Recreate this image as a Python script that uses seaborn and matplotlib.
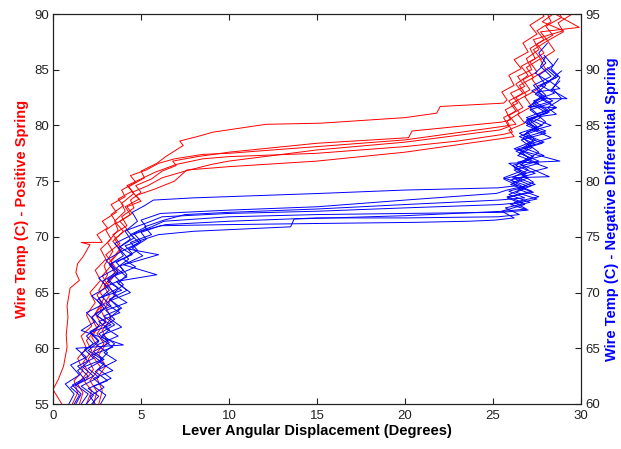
import pandas as pd
import matplotlib
matplotlib.use("Agg")
import matplotlib.pyplot as plt
import seaborn as sns

# red runs - positive spring, left axis (deg, C)
r1_x = [1.9, 2.2, 1.8, 2.3, 2.0, 2.5, 2.2, 2.7, 2.4, 2.9, 2.6, 3.1, 2.9, 3.4, 3.1, 3.7, 3.5, 4.1, 3.9, 4.6, 4.3, 5.2, 5.0, 5.9, 6.4, 7.4, 7.2, 8.2, 9.1, 12.1, 15.2, 20.0, 21.8, 22.0, 25.6,
        25.8, 25.5, 26.2, 25.9, 26.6, 26.2, 27.0, 26.7, 27.5, 27.1, 27.9, 27.6]
r1_t = [55.0, 56.2, 57.0, 58.1, 59.0, 60.2, 61.0, 62.3, 63.1, 64.5, 65.2, 66.6, 67.4, 68.7, 69.5, 70.6, 71.4, 72.3, 73.0, 73.9, 74.5, 75.3, 75.9, 76.6, 77.2, 78.2, 78.6, 79.0, 79.4, 80.1, 80.2, 80.7, 81.1, 81.7, 82.0,
        82.3, 83.0, 83.6, 84.5, 85.1, 85.9, 86.6, 87.4, 88.2, 89.0, 89.8, 90.5]

r2_x = [1.5, 1.7, 1.4, 2.0, 1.7, 2.2, 1.9, 2.5, 2.2, 2.8, 2.5, 3.1, 2.8, 3.4, 3.0, 3.8, 3.4, 4.2, 3.9, 4.6, 4.4, 5.0, 4.7, 5.6, 6.2, 7.0, 6.8, 8.2, 10.0, 15.0, 20.2, 20.4, 25.5,
        26.0, 25.7, 26.4, 26.0, 26.8, 26.4, 27.2, 26.9, 27.6, 27.3, 29.0, 27.8, 28.6]
r2_t = [55.0, 56.0, 56.8, 57.9, 58.7, 59.8, 60.7, 61.8, 62.7, 63.9, 64.8, 65.7, 66.5, 67.6, 68.4, 69.4, 70.2, 71.0, 71.8, 72.6, 73.3, 74.0, 74.6, 75.2, 75.9, 76.4, 76.8, 77.2, 77.6, 78.4, 78.9, 79.5, 80.3,
        80.5, 81.4, 82.0, 82.9, 83.5, 84.4, 85.0, 86.0, 86.8, 87.7, 88.5, 89.3, 90.2]

r3_x = [2.3, 2.5, 2.1, 2.7, 2.3, 2.9, 2.5, 3.0, 2.7, 3.2, 2.9, 3.5, 3.2, 3.8, 3.4, 4.0, 3.6, 4.4, 4.1, 4.9, 4.5, 5.4, 6.2, 7.5, 9.0, 10.0, 15.0, 20.0, 25.4,
        25.9, 25.6, 26.3, 25.9, 26.7, 26.3, 27.0, 26.6, 27.4, 27.1, 27.9, 27.5, 28.3, 28.0]
r3_t = [55.0, 56.1, 57.1, 58.3, 59.2, 60.4, 61.3, 62.5, 63.5, 64.7, 65.6, 66.8, 67.7, 68.9, 69.6, 70.5, 71.2, 72.0, 72.7, 73.4, 74.0, 74.6, 75.3, 75.9, 76.5, 76.8, 77.8, 78.5, 79.6,
        79.9, 80.7, 81.3, 82.2, 82.9, 83.7, 84.5, 85.3, 86.0, 86.9, 87.7, 88.5, 89.3, 90.3]

r4_x = [1.1, 1.4, 1.2, 1.7, 1.4, 1.9, 1.6, 2.2, 1.9, 2.4, 2.1, 2.7, 2.4, 3.0, 2.7, 3.3, 3.0, 3.6, 3.3, 4.0, 3.7, 4.5, 4.2, 5.0, 5.8, 7.0, 8.5, 10.0, 15.0, 20.0, 23.0, 25.6,
        26.1, 25.8, 26.5, 26.1, 26.9, 26.5, 27.3, 26.9, 27.7, 27.3, 28.1, 27.7, 29.9, 28.3]
r4_t = [55.0, 56.0, 57.1, 58.0, 59.1, 60.0, 61.1, 62.0, 63.0, 64.1, 65.0, 66.1, 67.0, 68.0, 68.9, 69.8, 70.6, 71.3, 72.0, 72.8, 73.4, 74.1, 74.6, 75.2, 75.8, 76.5, 77.0, 77.2, 77.5, 78.1, 78.6, 79.2,
        79.4, 80.4, 81.1, 82.0, 82.7, 83.6, 84.3, 85.2, 86.0, 86.8, 87.6, 88.4, 88.8, 90.2]

r5_x = [2.6, 2.8, 2.5, 3.0, 2.6, 3.1, 2.8, 3.3, 3.0, 3.5, 3.1, 3.7, 3.3, 3.9, 3.5, 4.2, 3.8, 4.5, 4.2, 5.0, 4.7, 5.8, 6.9, 7.6, 10.0, 15.0, 20.0, 25.4,
        26.2, 25.9, 26.8, 26.4, 27.2, 26.8, 27.6, 27.2, 28.0, 27.7, 28.5, 28.1, 29.0, 28.7, 29.6]
r5_t = [55.0, 56.2, 57.3, 58.4, 59.4, 60.6, 61.6, 62.7, 63.7, 64.8, 65.8, 66.9, 67.8, 68.9, 69.8, 70.7, 71.4, 72.1, 72.7, 73.2, 73.7, 74.3, 75.0, 76.0, 76.3, 76.8, 77.6, 78.8,
        79.0, 79.6, 80.2, 81.0, 81.7, 82.6, 83.3, 84.2, 85.0, 85.9, 86.7, 87.6, 88.4, 89.2, 90.1]

r6_x = [0.5, 0.0, 0.3, 0.6, 0.8, 0.75, 0.85, 0.8, 0.97, 1.5, 1.3, 1.4, 1.7, 2.1, 1.6, 2.8, 2.5, 3.1, 2.8, 3.6, 3.3, 4.1, 3.9, 4.7, 4.4, 5.3, 6.0, 6.9, 8.5, 10.0, 15.0, 20.0, 25.5,
        26.3, 25.9, 26.7, 26.3, 27.1, 26.7, 27.5, 27.1, 27.9, 27.5, 28.4, 28.0, 28.9, 28.6]
r6_t = [55.0, 56.3, 57.2, 58.4, 60.1, 61.2, 62.8, 63.8, 65.4, 66.1, 66.8, 67.6, 68.2, 69.3, 69.5, 69.5, 70.2, 70.8, 71.4, 72.2, 72.9, 73.6, 74.2, 74.9, 75.5, 76.0, 76.6, 77.0, 77.4, 77.5, 78.1, 78.7, 79.9,
        80.1, 80.9, 81.6, 82.5, 83.2, 84.1, 84.8, 85.7, 86.5, 87.3, 88.1, 88.9, 89.7, 90.4]

# blue runs - negative differential spring, right axis (deg, C)
b1_x = [1.2, 1.5, 1.0, 1.8, 1.4, 2.0, 1.6, 2.3, 1.9, 2.6, 2.2, 2.9, 2.5, 3.2, 2.8, 3.6, 3.2, 4.0, 3.7, 4.4, 4.1, 4.8, 4.5, 5.2, 5.7, 8.0, 15.2, 20.0, 25.3,
        26.4, 25.6, 26.9, 26.1, 27.2, 26.3, 27.4, 26.5, 27.6, 26.8, 28.6, 27.0, 28.0, 27.2, 28.2, 27.4, 28.0, 27.6, 28.1]
b1_t = [60.0, 60.8, 61.5, 62.2, 63.0, 63.8, 64.5, 65.4, 66.1, 67.0, 67.8, 68.6, 69.3, 70.2, 71.0, 71.8, 72.5, 73.3, 74.0, 74.8, 75.5, 76.4, 77.2, 77.8, 78.3, 78.5, 78.9, 79.2, 79.4,
        79.6, 80.2, 80.7, 81.4, 82.0, 82.7, 83.3, 84.0, 84.6, 85.3, 86.6, 86.7, 87.4, 88.1, 88.9, 89.7, 90.6, 91.5, 92.4]

b2_x = [2.2, 2.6, 2.0, 3.1, 2.4, 2.9, 2.2, 3.4, 2.7, 3.2, 2.6, 3.8, 3.0, 3.6, 3.1, 4.2, 3.6, 4.3, 3.9, 4.9, 4.4, 5.3, 5.0, 6.1, 10.0, 15.0, 20.0, 25.2,
        25.8, 26.9, 25.6, 26.6, 25.9, 28.8, 26.2, 27.3, 26.5, 27.8, 26.9, 28.1, 27.3, 28.5, 27.7, 28.7, 28.1]
b2_t = [60.0, 60.7, 61.4, 62.1, 62.9, 63.6, 64.4, 65.1, 65.9, 66.7, 67.4, 68.2, 69.0, 69.8, 70.6, 71.4, 72.2, 73.0, 73.7, 74.5, 75.2, 75.9, 76.5, 77.1, 77.4, 77.7, 78.3, 78.9,
        79.2, 79.6, 80.3, 80.9, 81.6, 81.8, 82.9, 83.6, 84.3, 85.0, 85.7, 86.4, 87.2, 87.9, 88.6, 89.4, 90.2]

b3_x = [1.6, 2.0, 1.3, 2.3, 1.7, 2.8, 2.0, 2.6, 2.1, 3.3, 2.5, 3.0, 2.6, 3.9, 3.1, 3.7, 3.3, 4.5, 3.8, 4.6, 4.2, 5.4, 6.2, 10.0, 15.0, 20.0, 25.4,
        26.7, 25.8, 27.3, 26.0, 27.0, 26.2, 27.6, 26.4, 27.2, 26.6, 28.0, 26.9, 27.7, 27.1, 28.3, 27.4, 28.0, 27.6, 28.4, 27.9]
b3_t = [60.0, 60.9, 61.7, 62.5, 63.3, 64.0, 64.8, 65.6, 66.4, 67.1, 67.9, 68.7, 69.5, 70.2, 71.0, 71.8, 72.6, 73.4, 74.1, 74.9, 75.6, 76.3, 76.8, 77.1, 77.3, 77.6, 77.9,
        78.1, 78.6, 79.0, 79.7, 80.3, 81.0, 81.6, 82.3, 83.0, 83.7, 84.3, 85.0, 85.7, 86.4, 87.0, 87.8, 88.6, 89.5, 90.4, 91.3]

b4_x = [2.7, 3.0, 2.3, 3.3, 2.6, 3.6, 2.9, 3.5, 2.8, 3.9, 3.2, 3.8, 3.3, 4.4, 3.7, 4.2, 3.8, 6.0, 4.3, 5.0, 4.6, 5.6, 6.3, 10.0, 15.0, 20.0, 25.5,
        27.0, 26.0, 27.5, 26.3, 27.2, 26.1, 28.2, 26.6, 27.3, 26.4, 27.9, 26.8, 27.5, 27.0, 28.2, 27.3, 28.0, 27.5, 28.6, 28.0]
b4_t = [60.0, 60.8, 61.6, 62.3, 63.1, 63.9, 64.6, 65.4, 66.2, 66.9, 67.7, 68.5, 69.3, 70.0, 70.8, 71.6, 72.4, 73.4, 73.9, 74.6, 75.3, 75.9, 76.4, 76.8, 77.0, 77.1, 77.2,
        77.4, 77.9, 78.4, 79.0, 79.6, 80.3, 80.4, 81.5, 82.2, 82.9, 83.5, 84.2, 84.9, 85.6, 86.2, 87.0, 87.7, 88.5, 89.3, 90.1]

b5_x = [0.9, 1.2, 0.7, 1.5, 1.0, 1.9, 1.3, 4.0, 1.6, 2.4, 1.9, 2.8, 2.2, 3.1, 2.6, 3.5, 3.0, 3.9, 3.5, 4.4, 5.2, 6.4, 10.0, 15.0, 20.0, 25.3,
        26.5, 25.7, 27.1, 25.9, 26.8, 26.0, 27.4, 26.3, 27.0, 26.5, 27.8, 26.7, 27.4, 26.9, 28.1, 27.2, 27.8, 27.3, 28.3, 27.7, 28.0]
b5_t = [60.0, 60.9, 61.8, 62.6, 63.5, 64.2, 65.0, 65.3, 66.6, 67.4, 68.2, 68.9, 69.7, 70.5, 71.3, 72.1, 72.9, 73.7, 74.4, 75.1, 75.6, 76.1, 76.4, 76.7, 76.7, 76.8,
        77.0, 77.6, 78.1, 78.8, 79.4, 80.1, 80.7, 81.4, 82.1, 82.8, 83.4, 84.1, 84.8, 85.5, 86.1, 86.9, 87.7, 88.6, 89.4, 90.3, 91.2]

b6_x = [1.9, 2.3, 1.6, 2.6, 2.0, 2.9, 2.3, 3.2, 2.6, 3.5, 2.9, 3.9, 3.2, 4.2, 3.6, 5.9, 4.0, 5.1, 4.5, 5.3, 5.0, 6.1, 10.0, 15.0, 20.5, 23.6, 25.1,
        26.2, 25.5, 26.8, 25.8, 27.2, 26.1, 26.9, 26.2, 27.6, 26.5, 27.2, 26.7, 28.0, 26.9, 27.6, 27.1, 28.4, 27.5, 28.8, 28.2, 28.9]
b6_t = [60.0, 60.8, 61.6, 62.4, 63.2, 64.0, 64.7, 65.5, 66.3, 67.1, 67.9, 68.6, 69.4, 70.2, 71.0, 71.6, 72.5, 73.3, 74.0, 74.8, 75.4, 76.0, 76.1, 76.2, 76.3, 76.4, 76.5,
        76.7, 77.3, 77.9, 78.5, 79.1, 79.8, 80.5, 81.2, 81.8, 82.5, 83.2, 83.9, 84.5, 85.2, 85.9, 86.6, 87.2, 88.0, 88.3, 89.0, 89.9]

b7_x = [1.3, 1.6, 1.1, 2.0, 1.4, 2.3, 1.8, 2.6, 2.1, 3.0, 2.4, 3.3, 2.8, 3.7, 3.1, 4.0, 3.6, 4.5, 4.1, 5.2, 6.0, 8.0, 13.5, 13.7, 20.0, 25.6,
        26.9, 26.2, 27.6, 26.4, 27.3, 26.6, 28.1, 26.9, 27.6, 27.0, 28.3, 27.3, 28.0, 27.5, 28.6, 27.7, 29.2, 28.3, 28.8]
b7_t = [60.0, 60.9, 61.7, 62.5, 63.4, 64.1, 64.9, 65.7, 66.5, 67.3, 68.1, 68.8, 69.6, 70.4, 71.2, 72.0, 72.7, 73.5, 74.2, 74.8, 75.2, 75.5, 75.9, 76.6, 76.9, 77.3,
        77.5, 78.1, 78.6, 79.3, 79.9, 80.6, 81.2, 81.9, 82.6, 83.3, 83.9, 84.6, 85.3, 86.0, 86.6, 87.4, 87.4, 88.2, 89.0]

b8_x = [2.4, 2.1, 2.9, 2.3, 3.4, 2.6, 3.1, 2.5, 3.7, 2.9, 3.5, 3.0, 4.2, 3.4, 4.0, 3.5, 4.7, 4.0, 4.8, 4.4, 5.6, 5.2, 6.3, 7.5, 10.0, 15.0, 20.0, 25.3,
        26.8, 25.9, 27.4, 26.2, 27.0, 26.4, 27.9, 26.7, 27.4, 26.9, 28.3, 27.2, 28.6, 28.1, 28.9, 28.4, 28.8, 28.3, 28.7]
b8_t = [60.0, 60.7, 61.5, 62.3, 63.0, 63.8, 64.6, 65.3, 66.1, 66.9, 67.6, 68.4, 69.1, 69.9, 70.7, 71.5, 72.3, 73.0, 73.8, 74.5, 75.2, 75.9, 76.5, 77.0, 77.2, 77.5, 77.9, 78.3,
        78.5, 79.1, 79.7, 80.4, 81.0, 81.7, 82.3, 83.0, 83.7, 84.4, 85.0, 85.7, 86.0, 86.6, 87.4, 88.3, 89.3, 90.1, 91.0]

red_runs = [(r1_x, r1_t), (r2_x, r2_t), (r3_x, r3_t), (r4_x, r4_t), (r5_x, r5_t), (r6_x, r6_t)]
blue_runs = [(b1_x, b1_t), (b2_x, b2_t), (b3_x, b3_t), (b4_x, b4_t),
             (b5_x, b5_t), (b6_x, b6_t), (b7_x, b7_t), (b8_x, b8_t)]


def to_frame(runs):
    parts = []
    for i, (xs, ts) in enumerate(runs):
        parts.append(pd.DataFrame({'disp': xs, 'temp': ts, 'run': i}))
    return pd.concat(parts, ignore_index=True)


red_df = to_frame(red_runs)
blue_df = to_frame(blue_runs)

sns.set_style('white')
plt.rcParams['font.family'] = ['Liberation Sans', 'DejaVu Sans']

fig = plt.figure(figsize=(6.21, 4.49), dpi=100)
ax = fig.add_axes([53 / 621, 45 / 449, 528 / 621, 390 / 449])
ax2 = ax.twinx()

sns.lineplot(data=red_df, x='disp', y='temp', units='run', estimator=None, sort=False,
             color='#ff0000', lw=0.7, legend=False, ax=ax)
sns.lineplot(data=blue_df, x='disp', y='temp', units='run', estimator=None, sort=False,
             color='#0000ff', lw=0.7, legend=False, ax=ax2)

ax.set_xlim(0, 30)
ax.set_ylim(55, 90)
ax2.set_ylim(60, 95)
ax.set_xticks(range(0, 31, 5))
ax.set_yticks(range(55, 91, 5))
ax2.set_yticks(range(60, 96, 5))

ax.tick_params(axis='x', direction='in', top=True, bottom=True, length=4, width=0.8,
               labelsize=9.5, colors='#222222', pad=4)
ax.tick_params(axis='y', direction='in', left=True, right=False, length=4, width=0.8,
               labelsize=9.5, colors='#222222', pad=3)
ax2.tick_params(axis='y', direction='in', right=True, length=4, width=0.8,
                labelsize=9.5, colors='#222222', pad=3)

for a in (ax, ax2):
    for s in a.spines.values():
        s.set_color('#222222')
        s.set_linewidth(0.8)

ax.set_xlabel('Lever Angular Displacement (Degrees)', fontsize=10.5, fontweight='bold', color='black', labelpad=2)
ax.set_ylabel('Wire Temp (C) - Positive Spring', fontsize=10.5, fontweight='bold', color='#ff0000', labelpad=4)
ax2.set_ylabel('Wire Temp (C) - Negative Differential Spring', fontsize=10.5, fontweight='bold', color='#0000ff', labelpad=4)

fig.savefig('out.png', dpi=100)
